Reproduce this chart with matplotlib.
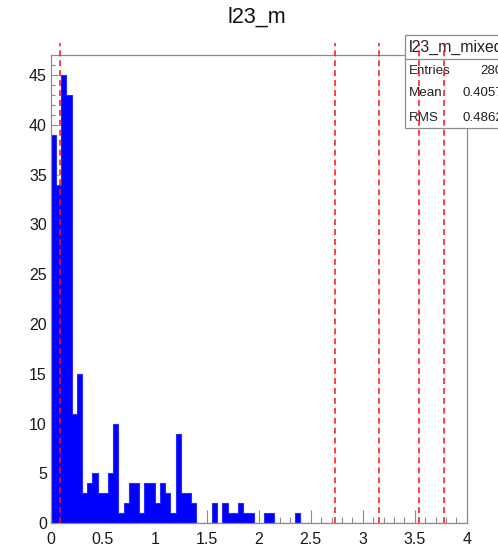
import numpy as np
import matplotlib
matplotlib.use("Agg")
import matplotlib.pyplot as plt
from matplotlib.patches import Rectangle
from matplotlib.lines import Line2D
from matplotlib.ticker import MultipleLocator, FormatStrFormatter

plt.rcParams['font.family'] = ['Liberation Sans', 'DejaVu Sans']

# l23_m histogram: 80 bins of width 0.05 on [0, 4]
bin_lo, bin_hi, n_bins = 0.0, 4.0, 80
counts = [39, 34, 45, 43, 11, 15, 3, 4, 5, 3,
          3, 5, 10, 1, 2, 4, 4, 1, 4, 4,
          2, 4, 3, 1, 9, 3, 3, 2, 0, 0,
          0, 2, 0, 2, 1, 1, 2, 1, 1, 0,
          0, 1, 1, 0, 0, 0, 0, 1, 0, 0,
          0, 0, 0, 0, 0, 0, 0, 0, 0, 0,
          0, 0, 0, 0, 0, 0, 0, 0, 0, 0,
          0, 0, 0, 0, 0, 0, 0, 0, 0, 0]

# vertical cut lines
cuts = [0.09, 2.73, 3.16, 3.54, 3.78]

hist_name = "l23_m"
stats_name = "l23_m_mixed"
stats_labels = ["Entries", "Mean", "RMS"]
stats_values = ["280", "0.4057", "0.4862"]

W, H = 498, 552
fig = plt.figure(figsize=(W / 100, H / 100), dpi=100)
ax = fig.add_axes([50.7 / W, 1 - 523.3 / H, 416.1 / W, 467.8 / H])

edges = np.linspace(bin_lo, bin_hi, n_bins + 1)
ax.stairs(counts, edges, fill=True, facecolor='#0000ff', edgecolor='#2a2aff',
          linewidth=0.8, zorder=2)

ax.set_xlim(bin_lo, bin_hi)
ax.set_ylim(0, 46.95)

frame_col = '#8c8c8c'
for s in ax.spines.values():
    s.set_color(frame_col)
    s.set_linewidth(0.9)

ax.xaxis.set_major_locator(MultipleLocator(0.5))
ax.xaxis.set_minor_locator(MultipleLocator(0.1))
ax.yaxis.set_major_locator(MultipleLocator(5))
ax.yaxis.set_minor_locator(MultipleLocator(1))
ax.xaxis.set_major_formatter(FormatStrFormatter('%g'))
ax.yaxis.set_major_formatter(FormatStrFormatter('%g'))

ax.tick_params(axis='x', which='major', direction='in', length=9.4, width=0.8,
               color=frame_col, pad=6, labelsize=11.5)
ax.tick_params(axis='x', which='minor', direction='in', length=4.6, width=0.8,
               color=frame_col)
ax.tick_params(axis='y', which='major', direction='in', length=5, width=0.8,
               color=frame_col, pad=2.7, labelsize=11.5)
ax.tick_params(axis='y', which='minor', direction='in', length=3, width=0.8,
               color=frame_col)
for t in ax.get_xticklabels() + ax.get_yticklabels():
    t.set_color('#1a1a1a')

# dashed cut lines, reaching a little above the frame
for c in cuts:
    ax.vlines(c, 0, 48.2, colors='#ff1010', linewidth=1.1,
              linestyles=(0, (3.9, 2.6)), clip_on=False, zorder=10)

fig.text(257 / W, 1 - 17 / H, hist_name, ha='center', va='center',
         fontsize=15.5, color='#111111')

# statistics box in the top right corner (runs past the canvas edge)
fx = lambda px: px / W
fy = lambda py: 1 - py / H
box = Rectangle((fx(405), fy(128.3)), fx(530) - fx(405), fy(35) - fy(128.3),
                transform=fig.transFigure, facecolor='white',
                edgecolor=frame_col, linewidth=0.9, clip_on=False, zorder=5)
ax.add_patch(box)
ax.add_line(Line2D([fx(405), fx(530)], [fy(59), fy(59)], transform=fig.transFigure,
                   color=frame_col, linewidth=0.9, clip_on=False, zorder=6))
ax.text(fx(408.5), fy(47.5), stats_name, transform=fig.transFigure,
        ha='left', va='center', fontsize=11.4, color='#222222', zorder=7,
        clip_on=False)
row_y = [70.5, 93.5, 118]
for lab, val, yy in zip(stats_labels, stats_values, row_y):
    ax.text(fx(408.5), fy(yy), lab, transform=fig.transFigure, ha='left',
            va='center', fontsize=9.6, color='#222222', zorder=7, clip_on=False)
    ax.text(fx(503), fy(yy), val, transform=fig.transFigure, ha='right',
            va='center', fontsize=9.6, color='#222222', zorder=7, clip_on=False)

fig.savefig("out.png", dpi=100)
